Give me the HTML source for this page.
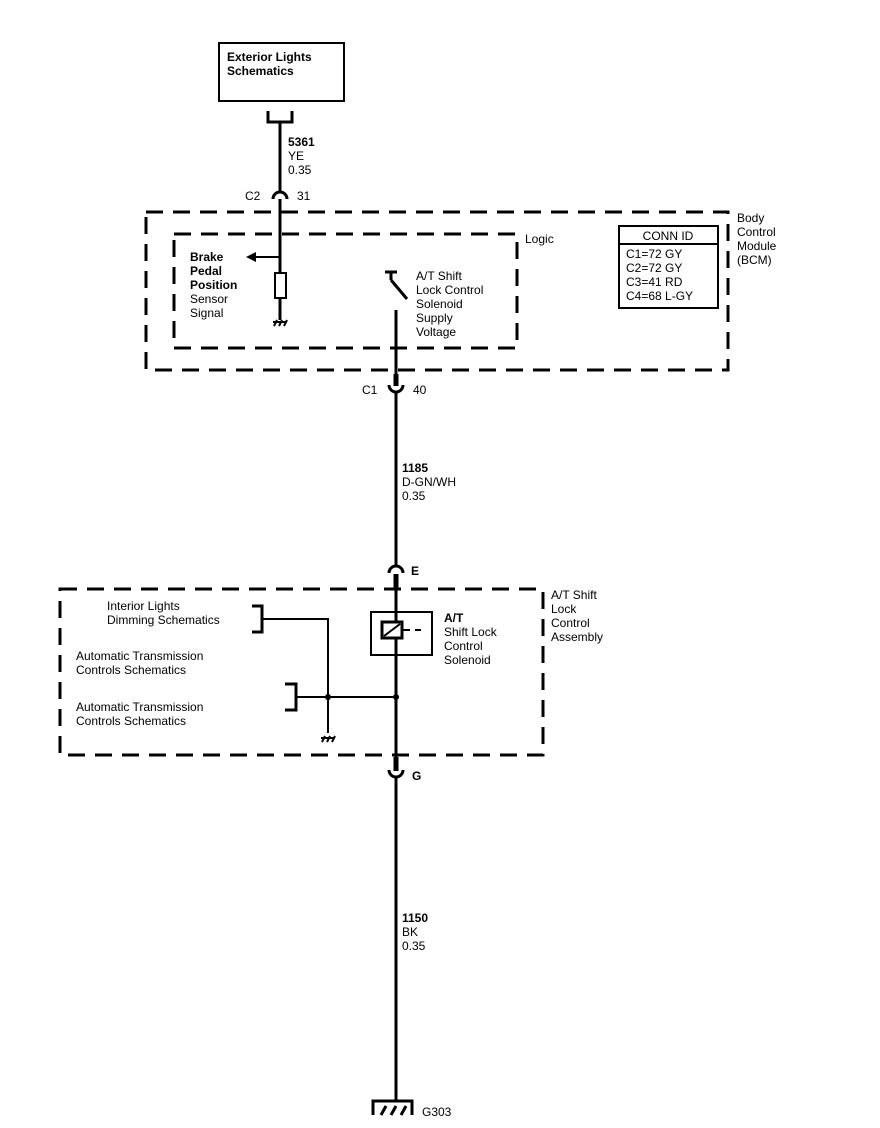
<!DOCTYPE html>
<html><head><style>
html,body{margin:0;padding:0;background:#fff;}
svg{display:block;}
text{font-family:"Liberation Sans",sans-serif;font-size:12px;fill:#000;}
.b{font-weight:bold;}
</style></head><body>
<svg width="880" height="1128" viewBox="0 0 880 1128" xmlns="http://www.w3.org/2000/svg">
<g fill="none" stroke="#000" stroke-width="3">
<rect x="219" y="43" width="125" height="58" stroke-width="2"/>
<path d="M268 111 V122 H292 V111"/>
<line x1="280" y1="122" x2="280" y2="192"/>
<path d="M273 199 A7 7 0 0 1 287 199"/>
<line x1="280" y1="199" x2="280" y2="320"/>
<rect x="275" y="273" width="11" height="25" fill="#fff" stroke-width="2"/>
<line x1="280" y1="257" x2="252" y2="257" stroke-width="2"/>
<rect x="146" y="212" width="582" height="158" stroke-dasharray="17,10"/>
<rect x="174" y="234" width="343" height="114" stroke-dasharray="17,10"/>
<rect x="619" y="226" width="99" height="82" stroke-width="2"/>
<line x1="619" y1="244" x2="718" y2="244" stroke-width="2"/>
<line x1="385" y1="272" x2="397" y2="272"/>
<line x1="391" y1="272" x2="391" y2="280"/>
<line x1="391" y1="280" x2="407" y2="299"/>
<line x1="396" y1="310" x2="396" y2="385"/>
<line x1="396" y1="374" x2="396" y2="386" stroke-width="5"/>
<path d="M389 385 A7 7 0 0 0 403 385"/>
<line x1="396" y1="392" x2="396" y2="565"/>
<path d="M389 573 A7 7 0 0 1 403 573"/>
<line x1="396" y1="574" x2="396" y2="588" stroke-width="5"/>
<line x1="396" y1="588" x2="396" y2="757"/>
<rect x="60" y="589" width="483" height="166" stroke-dasharray="17,10"/>
<rect x="371" y="612" width="61" height="43" stroke-width="2"/>
<rect x="382" y="622" width="20" height="16" fill="#fff"/>
<line x1="384" y1="636" x2="400" y2="624" stroke-width="2"/>
<line x1="403" y1="630" x2="410" y2="630" stroke-width="2"/>
<line x1="415" y1="630" x2="421" y2="630" stroke-width="2"/>
<path d="M252 606 H262 V632 H252"/>
<path d="M262 619 H328 V733" stroke-width="2"/>
<path d="M285 684 H296 V710 H285"/>
<line x1="296" y1="697" x2="396" y2="697" stroke-width="2"/>
<line x1="396" y1="757" x2="396" y2="771" stroke-width="5"/>
<path d="M389 770 A7 7 0 0 0 403 770"/>
<line x1="396" y1="777" x2="396" y2="1100"/>
<path d="M373 1115 V1101 H412 V1115"/>
<path d="M381 1115 L386 1106 M391 1115 L396 1106 M401 1115 L406 1106"/>
<path d="M273 322 H287 M274 326 L277 320 M279 326 L282 320 M284 326 L287 320" stroke-width="2"/>
<path d="M321 738 H335 M322 742 L325 736 M327 742 L330 736 M332 742 L335 736" stroke-width="2"/>
</g>
<polygon points="246,257 256,252 256,262" fill="#000"/>
<circle cx="328" cy="697" r="3" fill="#000"/>
<circle cx="396" cy="697" r="3" fill="#000"/>

<text x="227" y="61" class="b">Exterior Lights</text>
<text x="227" y="75" class="b">Schematics</text>
<text x="288" y="146" class="b">5361</text>
<text x="288" y="160">YE</text>
<text x="288" y="174">0.35</text>
<text x="245" y="200">C2</text>
<text x="297" y="200">31</text>
<text x="525" y="243">Logic</text>
<text x="737" y="222">Body</text>
<text x="737" y="236">Control</text>
<text x="737" y="250">Module</text>
<text x="737" y="264">(BCM)</text>
<text x="668" y="240" text-anchor="middle">CONN ID</text>
<text x="626" y="258">C1=72 GY</text>
<text x="626" y="272">C2=72 GY</text>
<text x="626" y="286">C3=41 RD</text>
<text x="626" y="300">C4=68 L-GY</text>
<text x="190" y="261" class="b">Brake</text>
<text x="190" y="275" class="b">Pedal</text>
<text x="190" y="289" class="b">Position</text>
<text x="190" y="303">Sensor</text>
<text x="190" y="317">Signal</text>
<text x="416" y="280">A/T Shift</text>
<text x="416" y="294">Lock Control</text>
<text x="416" y="308">Solenoid</text>
<text x="416" y="322">Supply</text>
<text x="416" y="336">Voltage</text>
<text x="362" y="394">C1</text>
<text x="413" y="394">40</text>
<text x="402" y="472" class="b">1185</text>
<text x="402" y="486">D-GN/WH</text>
<text x="402" y="500">0.35</text>
<text x="411" y="575" class="b">E</text>
<text x="551" y="599">A/T Shift</text>
<text x="551" y="613">Lock</text>
<text x="551" y="627">Control</text>
<text x="551" y="641">Assembly</text>
<text x="444" y="622" class="b">A/T</text>
<text x="444" y="636">Shift Lock</text>
<text x="444" y="650">Control</text>
<text x="444" y="664">Solenoid</text>
<text x="107" y="610">Interior Lights</text>
<text x="107" y="624">Dimming Schematics</text>
<text x="76" y="660">Automatic Transmission</text>
<text x="76" y="674">Controls Schematics</text>
<text x="76" y="711">Automatic Transmission</text>
<text x="76" y="725">Controls Schematics</text>
<text x="412" y="780" class="b">G</text>
<text x="402" y="922" class="b">1150</text>
<text x="402" y="936">BK</text>
<text x="402" y="950">0.35</text>
<text x="422" y="1116">G303</text>
</svg>
</body></html>
